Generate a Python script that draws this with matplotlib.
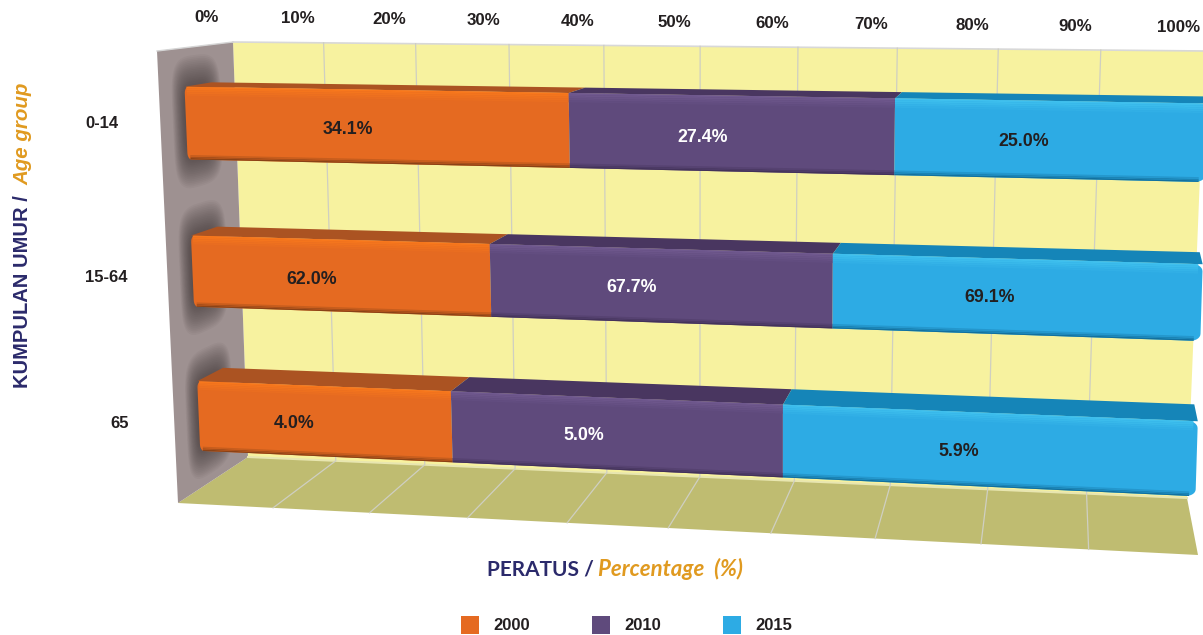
import numpy as np
import matplotlib
matplotlib.use("Agg")
import matplotlib.pyplot as plt
from matplotlib.colors import to_rgb

# data
age_groups = ["0-14", "15-64", "65"]
years = ["2000", "2010", "2015"]
share_2000 = [34.1, 62.0, 4.0]
share_2010 = [27.4, 67.7, 5.0]
share_2015 = [25.0, 69.1, 5.9]
pct_ticks = [0, 10, 20, 30, 40, 50, 60, 70, 80, 90, 100]

# colours: front, top face, highlight, dark edge
bar_cols = [("#E56A21", "#AB5322", "#F8781C", "#8A4216"),
            ("#5F4A7C", "#493660", "#70598F", "#43325A"),
            ("#2DABE4", "#1585B8", "#3FC0EE", "#12709E")]
wall_col = "#F7F29F"
floor_col = "#BFBC71"
side_col = "#9E9191"
grid_col = "#CFCFC2"
ink = "#231F20"
navy = "#2B2A6B"
amber = "#E09A20"

# label placement in the picture, it is not centred on the segments
label_xy = [[(348, 130), (703, 137), (1024, 141)],
            [(312, 279), (632, 288), (990, 298)],
            [(294, 423), (584, 436), (959, 452)]]
row_label_xy = [(102, 124), (106, 277), (120, 424)]
legend_x = [461, 592, 723]

# the 3d box: front and back plane corners in the order
# (0%, top), (100%, top), (100%, bottom), (0%, bottom)
front_quad = [(157, 51), (1211, 67), (1198, 555), (178, 503)]
back_quad = [(233, 42), (1205, 51), (1187, 498), (248, 457)]
bar_d0, bar_d1 = 0.34, 0.70
bar_h = 0.486


def homography(quad):
    src = [(0, 0), (1, 0), (1, 1), (0, 1)]
    A, b = [], []
    for (s, u), (x, y) in zip(src, quad):
        A.append([s, u, 1, 0, 0, 0, -s * x, -u * x])
        A.append([0, 0, 0, s, u, 1, -s * y, -u * y])
        b += [x, y]
    return np.append(np.linalg.solve(np.array(A, float), np.array(b, float)), 1).reshape(3, 3)


H_front = homography(front_quad)
H_back = homography(back_quad)


def project(t, v, d):
    # t is the share 0-1, v the row position 0-3, d the depth 0-1
    t, v, d = np.broadcast_arrays(np.asarray(t, float), np.asarray(v, float), np.asarray(d, float))
    pts = np.stack([t, v / 3.0, np.ones_like(t)])
    f = np.tensordot(H_front, pts, 1)
    g = np.tensordot(H_back, pts, 1)
    f = f[:2] / f[2]
    g = g[:2] / g[2]
    return f * (1 - d) + g * d


def blend(a, b, k):
    return tuple((1 - k) * np.array(to_rgb(a)) + k * np.array(to_rgb(b)))


def corner_arc(tc, vc, rt, rv, a0, a1):
    a = np.radians(np.linspace(a0, a1, 8))
    return tc + rt * np.cos(a), vc + rv * np.sin(a)


def rect_outline(t0, t1, v0, v1, rl=False, rr=False):
    # rectangle in (t, v), optionally with round corners at the bar ends
    rt, rv = 0.009, 0.045
    ts, vs = [], []
    if rl:
        tt, vv = corner_arc(t0 + 0.004, v1 - rv, 0.004, rv, 90, 180)
        ts.append(tt); vs.append(vv)
        tt, vv = corner_arc(t0 + 0.004, v0 + rv, 0.004, rv, 180, 270)
        ts.append(tt); vs.append(vv)
    else:
        ts.append([t0, t0]); vs.append([v1, v0])
    if rr:
        tt, vv = corner_arc(t1 - rt, v0 + rv, rt, rv, 270, 360)
        ts.append(tt); vs.append(vv)
        tt, vv = corner_arc(t1 - rt, v1 - rv, rt, rv, 0, 90)
        ts.append(tt); vs.append(vv)
    else:
        ts.append([t1, t1]); vs.append([v0, v1])
    return np.concatenate(ts), np.concatenate(vs)


fig = plt.figure(figsize=(12.03, 6.35), dpi=100)
ax = fig.add_axes([0, 0, 1, 1])
ax.set_xlim(0, 1203)
ax.set_ylim(635, 0)
ax.axis("off")


def fill3d(ts, vs, ds, col, z=1, **kw):
    x, y = project(ts, vs, ds)
    return ax.fill(x, y, color=col, lw=0, zorder=z, **kw)


# walls and floor
fill3d([0, 1, 1, 0], [0, 0, 3, 3], 1, wall_col)
fill3d([0, 1, 1, 0], 3, [1, 1, 0, 0], floor_col)
fill3d(0, [0, 0, 3, 3], [0, 1, 1, 0], side_col)
x, y = project([0, 0, 1], [3, 0, 0], [0, 1, 1])
ax.plot(x[1:], y[1:], color="#D8D8D8", lw=1.2, zorder=1.5)
x, y = project([0, 0], [0, 0], [0, 1])
ax.plot(x, y, color="#D5D5D5", lw=1, zorder=1.5)
x, y = project([0, 1], [3, 3], [1, 1])
ax.plot(x, y, color="#E8E6B0", lw=1.5, zorder=1.5)

# grid lines on wall and floor
for p in pct_ticks[1:-1]:
    x, y = project([p / 100, p / 100, p / 100], [0, 3, 3], [1, 1, 0])
    ax.plot(x, y, color=grid_col, lw=0.9, zorder=1.6)

# soft bar shadows on the side wall
rows = np.arange(len(age_groups)) + 0.5
ang = np.linspace(0, 2 * np.pi, 80)
for c in rows:
    for k in np.linspace(1.2, 0.6, 20):
        dd = 0.49 + 0.27 * k * np.sign(np.cos(ang)) * np.abs(np.cos(ang)) ** 0.6
        vv = c + 0.37 * k * np.sign(np.sin(ang)) * np.abs(np.sin(ang)) ** 0.4
        fill3d(0, vv, dd, "#3E3434", z=1.7, alpha=0.05)

# stacked bars, each row scaled to 100%
values = np.array([share_2000, share_2010, share_2015], float)
shares = values / values.sum(axis=0)
tops = np.cumsum(shares, axis=0)
for r, c in enumerate(rows):
    v0, v1 = c - bar_h / 2, c + bar_h / 2
    for s in range(len(years)):
        t0 = tops[s, r] - shares[s, r]
        t1 = tops[s, r]
        front, top, light, dark = bar_cols[s]
        # top face
        fill3d([t0, t1, t1, t0], v0, [bar_d0, bar_d0, bar_d1, bar_d1], top, z=2)
        # front face with bevel strips
        ts, vs = rect_outline(t0, t1, v0, v1, rl=s == 0, rr=s == 2)
        fill3d(ts, vs, bar_d0, front, z=2.1)
        for i in range(5):
            a = v0 + 0.012 * i
            if s == 2:
                a_t1 = t1 - 0.004
            else:
                a_t1 = t1
            fill3d([t0 + (0.002 if s == 0 else 0), a_t1, a_t1, t0 + (0.002 if s == 0 else 0)],
                   [a, a, a + 0.012, a + 0.012], bar_d0, blend(light, front, i / 5), z=2.2)
        for i in range(3):
            a = v1 - 0.01 * (i + 1)
            if s == 2:
                a_t1 = t1 - 0.006
            else:
                a_t1 = t1
            fill3d([t0 + (0.003 if s == 0 else 0), a_t1, a_t1, t0 + (0.003 if s == 0 else 0)],
                   [a, a, a + 0.01, a + 0.01], bar_d0, blend(dark, front, i / 3), z=2.2)

# text
font = "Liberation Sans"
for r in range(len(age_groups)):
    for s in range(len(years)):
        val = values[s, r]
        ax.text(label_xy[r][s][0], label_xy[r][s][1], "%.1f%%" % val, ha="center", va="center",
                family=font, weight="bold", size=12.8, color="white" if s == 1 else ink)
    ax.text(row_label_xy[r][0], row_label_xy[r][1], age_groups[r], ha="center", va="center",
            family=font, weight="bold", size=12, color=ink)

for p in pct_ticks:
    x, y = project(p / 100, 0, 1)
    ax.text(x - 26, y - 24, "%d%%" % p, ha="center", va="center",
            family=font, weight="bold", size=12.2, color=ink)

# axis titles
ax.text(487, 569, "PERATUS /", ha="left", va="center", family="Lato", weight="bold", size=15, color=navy)
ax.text(598, 569, "Percentage  (%)", ha="left", va="center", family="Lato", weight="bold",
        style="italic", size=16, color=amber)
ax.text(23, 388, "KUMPULAN UMUR /", rotation=90, ha="center", va="bottom", family=font,
        weight="bold", size=14.5, color=navy)
ax.text(23, 185, "Age group", rotation=90, ha="center", va="bottom", family=font,
        weight="bold", style="italic", size=14.8, color=amber)

# legend
for s, yr in enumerate(years):
    lx = legend_x[s]
    ax.add_patch(plt.Rectangle((lx, 616), 18, 18, color=bar_cols[s][0], lw=0))
    ax.text(lx + 32, 625.5, yr, ha="left", va="center", family=font, weight="bold", size=12, color=ink)

plt.savefig("out.png", dpi=100)
